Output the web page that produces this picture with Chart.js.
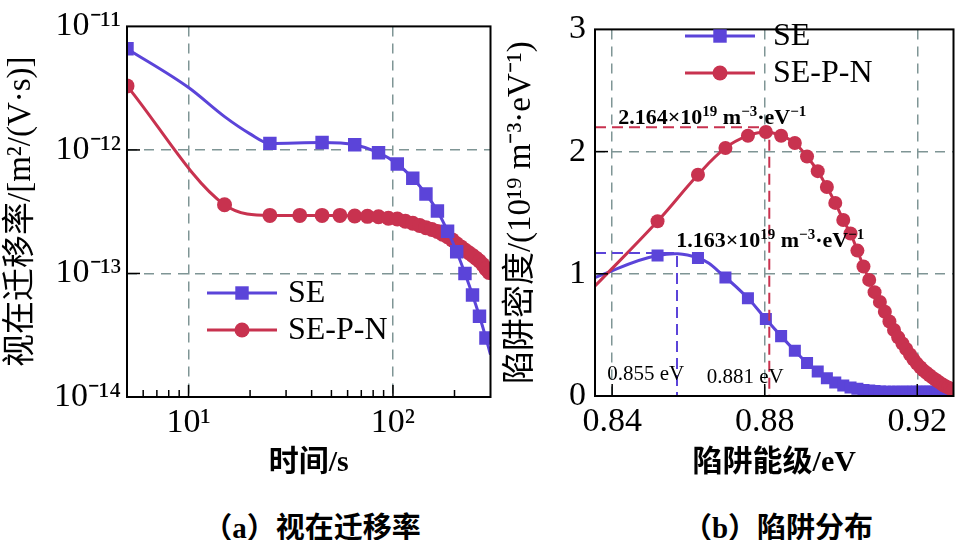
<!DOCTYPE html>
<html>
<head>
<meta charset="utf-8">
<script src="https://cdn.jsdelivr.net/npm/chart.js@4.4.1/dist/chart.umd.min.js"></script>
<style>
  html, body { margin: 0; padding: 0; background: #fff; width: 962px; height: 540px; overflow: hidden; }
  canvas { position: absolute; top: 0; }
  #chartA { left: 0; }
  #chartB { left: 500px; }
  .cap { position: absolute; top: 504px; width: 400px; text-align: center; line-height: 36px;
         font: bold 29px 'Liberation Serif', 'Noto Sans CJK SC', serif; color: #000; }
</style>
</head>
<body>
<canvas id="chartA" width="500" height="490"></canvas>
<canvas id="chartB" width="462" height="490"></canvas>
<div class="cap" style="left:112px">（a）视在迁移率</div>
<div class="cap" style="left:578px">（b）陷阱分布</div>
<script>
const SERIF = "'Liberation Serif', 'Noto Sans CJK SC', serif"
const BLUE = '#5b44d9'
const RED = '#c8324f'
const GRID = '#7f9595'

// (a) 视在迁移率 — time in s, mobility in m2/(V·s)
const seTime = [5, 25, 45, 65, 85, 105, 125, 145, 165, 185, 205, 225, 245, 265, 285]
const seMobility = [6.6e-12, 1.13e-12, 1.15e-12, 1.10e-12, 9.5e-13, 7.7e-13, 5.9e-13, 4.4e-13,
  3.2e-13, 2.2e-13, 1.5e-13, 1.0e-13, 6.7e-14, 4.5e-14, 3.0e-14]
// points on the SE curve that carry no marker
const seBendTime = [10, 15, 20, 300]
const seBendMobility = [3.2e-12, 1.86e-12, 1.35e-12, 2.2e-14]

const sepnTime = [5, 15, 25, 35, 45, 55, 65, 75, 85, 95, 105, 115, 125, 135, 145,
  155, 165, 175, 185, 195, 205, 215, 225, 235, 245, 255, 265, 275, 285, 295]
const sepnMobility = [3.3e-12, 3.6e-13, 2.95e-13, 2.95e-13, 2.95e-13, 2.95e-13, 2.92e-13, 2.9e-13,
  2.88e-13, 2.8e-13, 2.76e-13, 2.65e-13, 2.55e-13, 2.45e-13, 2.35e-13, 2.27e-13, 2.19e-13,
  2.08e-13, 1.98e-13, 1.87e-13, 1.74e-13, 1.64e-13, 1.55e-13, 1.47e-13, 1.4e-13, 1.33e-13,
  1.26e-13, 1.18e-13, 1.09e-13, 1.02e-13]
const sepnBendTime = [300]
const sepnBendMobility = [0.98e-13]

const timeTicks = [10, 100]
const timeLabels = ['10¹', '10²']
const timeMinor = [6, 7, 8, 9, 20, 30, 40, 50, 60, 70, 80, 90, 200]
const mobilityTicks = [1e-14, 1e-13, 1e-12, 1e-11]
const mobilityLabels = ['10⁻¹⁴', '10⁻¹³', '10⁻¹²', '10⁻¹¹']

// (b) 陷阱分布 — trap level in eV, density in 1e19 m-3·eV-1
const trapLevel = [0.8519, 0.8625, 0.8697, 0.8756, 0.8803, 0.8843, 0.8879, 0.8911, 0.8939, 0.8963,
  0.8985, 0.9006, 0.9025, 0.9043, 0.9059, 0.9074, 0.9088, 0.9102, 0.9115, 0.9127,
  0.9139, 0.9150, 0.9161, 0.9171, 0.9181, 0.9190, 0.9199, 0.9208, 0.9216, 0.9224,
  0.9232, 0.9240, 0.9247, 0.9254, 0.9261, 0.9268, 0.9274, 0.9281, 0.9287, 0.9293]
const seDensity = [1.15, 1.13, 0.97, 0.80, 0.63, 0.49, 0.37, 0.27, 0.20, 0.145,
  0.11, 0.085, 0.07, 0.06, 0.05, 0.045, 0.04, 0.037, 0.035, 0.035,
  0.035, 0.035, 0.035, 0.035, 0.035, 0.035, 0.035, 0.035, 0.035, 0.035,
  0.035, 0.035, 0.035, 0.035, 0.035, 0.035, 0.035, 0.035, 0.035, 0.035]
const sepnDensity = [1.43, 1.81, 2.03, 2.13, 2.16, 2.13, 2.07, 1.96, 1.84, 1.71,
  1.58, 1.44, 1.33, 1.19, 1.06, 0.95, 0.85, 0.77, 0.69, 0.61,
  0.54, 0.48, 0.43, 0.385, 0.34, 0.30, 0.265, 0.235, 0.21, 0.19,
  0.17, 0.15, 0.135, 0.12, 0.105, 0.09, 0.08, 0.07, 0.06, 0.05]
// curve start at the left edge, no marker
const edgeLevel = [0.8355]
const seEdgeDensity = [0.97]
const sepnEdgeDensity = [0.90]

const sePeak = { level: 0.857, density: 1.17 }
const sepnPeak = { level: 0.8812, density: 2.2 }

const levelTicks = [0.84, 0.88, 0.92]
const densityTicks = [0, 1, 2, 3]

function pts(xs, ys) {
  return xs.map((x, i) => ({ x, y: ys[i] }))
}

function curve(xs, ys, xs2, ys2) {
  return pts(xs, ys).concat(pts(xs2, ys2)).sort((p, q) => p.x - q.x)
}

function drawMarker(ctx, style, x, y, r) {
  ctx.beginPath()
  if (style === 'rect') {
    const s = r * Math.SQRT1_2
    ctx.rect(x - s, y - s, 2 * s, 2 * s)
  } else {
    ctx.arc(x, y, r, 0, Math.PI * 2)
  }
  ctx.fill()
}

// text runs with raised superscripts
function drawRich(ctx, segs, x, y, size, weight) {
  let cx = x
  ctx.textBaseline = 'alphabetic'
  ctx.textAlign = 'left'
  segs.forEach(([t, sup]) => {
    const fs = sup ? Math.round(size * 0.66) : size
    ctx.font = `${weight} ${fs}px ${SERIF}`
    ctx.fillText(t, cx, sup ? y - size * 0.38 : y)
    cx += ctx.measureText(t).width
  })
}

const framePlugin = {
  id: 'frame',
  afterDraw(chart, args, opts) {
    const { ctx, chartArea: a, scales } = chart
    ctx.save()
    ctx.strokeStyle = '#000'
    ctx.lineWidth = 1.5
    const xs = scales.x, ys = scales.y
    ;(opts.xMajor || []).forEach(v => {
      const px = xs.getPixelForValue(v)
      ctx.beginPath(); ctx.moveTo(px, a.bottom); ctx.lineTo(px, a.bottom - 12); ctx.stroke()
    })
    ;(opts.xMinor || []).forEach(v => {
      const px = xs.getPixelForValue(v)
      ctx.beginPath(); ctx.moveTo(px, a.bottom); ctx.lineTo(px, a.bottom - 7); ctx.stroke()
    })
    ;(opts.yMajor || []).forEach(v => {
      const py = ys.getPixelForValue(v)
      ctx.beginPath(); ctx.moveTo(a.left, py); ctx.lineTo(a.left + 13, py); ctx.stroke()
    })
    ctx.lineWidth = 2
    ctx.strokeRect(a.left, a.top, a.right - a.left, a.bottom - a.top)
    ctx.restore()
  }
}

const legendPlugin = {
  id: 'lineLegend',
  afterDraw(chart, args, opts) {
    const ctx = chart.ctx
    ctx.save()
    opts.items.forEach((it, i) => {
      const y = opts.y + i * opts.gap
      ctx.strokeStyle = it.color
      ctx.fillStyle = it.color
      ctx.lineWidth = 3
      ctx.beginPath(); ctx.moveTo(opts.x, y); ctx.lineTo(opts.x + 70, y); ctx.stroke()
      drawMarker(ctx, it.style, opts.x + 35, y, it.radius)
      ctx.fillStyle = '#000'
      ctx.font = `32px ${SERIF}`
      ctx.textBaseline = 'middle'
      ctx.textAlign = 'left'
      ctx.fillText(it.label, opts.x + opts.textGap, y + 1)
    })
    ctx.restore()
  }
}

const notesPlugin = {
  id: 'notes',
  afterDraw(chart, args, opts) {
    if (!opts.items) return
    const { ctx, scales } = chart
    ctx.save()
    ctx.fillStyle = '#000'
    opts.items.forEach(n => {
      drawRich(ctx, n.segs, scales.x.getPixelForValue(n.x), scales.y.getPixelForValue(n.y), n.size, n.weight)
    })
    ctx.restore()
  }
}

Chart.register(framePlugin, legendPlugin, notesPlugin)

const tickFont = { family: SERIF, size: 34 }
const titleFont = { family: SERIF, size: 30, weight: 'bold' }
const yTitleFont = { family: SERIF, size: 33 }
const gridEdgeless = n => ctx => (ctx.index === 0 || ctx.index === n - 1) ? 'rgba(0,0,0,0)' : GRID

new Chart(document.getElementById('chartA'), {
  type: 'line',
  data: {
    datasets: [
      { data: curve(seTime, seMobility, seBendTime, seBendMobility), borderColor: BLUE, borderWidth: 3,
        pointRadius: 0, cubicInterpolationMode: 'monotone', order: 1 },
      { data: pts(seTime, seMobility), showLine: false, pointStyle: 'rect', pointRadius: 9.5,
        backgroundColor: BLUE, pointBorderWidth: 0, order: 0 },
      { data: curve(sepnTime, sepnMobility, sepnBendTime, sepnBendMobility), borderColor: RED, borderWidth: 3,
        pointRadius: 0, cubicInterpolationMode: 'monotone', order: 3 },
      { data: pts(sepnTime, sepnMobility), showLine: false, pointStyle: 'circle', pointRadius: 7.5,
        backgroundColor: RED, pointBorderWidth: 0, order: 2 },
    ],
  },
  options: {
    responsive: false,
    animation: false,
    layout: { padding: { top: 17, right: 9, left: 0, bottom: 0 } },
    plugins: {
      legend: { display: false },
      tooltip: { enabled: false },
      frame: { xMajor: timeTicks, xMinor: timeMinor, yMajor: [1e-13, 1e-12] },
      lineLegend: {
        x: 207, y: 293, gap: 37, textGap: 81,
        items: [
          { label: 'SE', color: BLUE, style: 'rect', radius: 9.5 },
          { label: 'SE-P-N', color: RED, style: 'circle', radius: 7.5 },
        ],
      },
    },
    scales: {
      x: {
        type: 'logarithmic', min: 5, max: 300,
        afterBuildTicks: s => { s.ticks = timeTicks.map(v => ({ value: v })) },
        afterFit: s => { s.height = 93 },
        ticks: { callback: (v, i) => timeLabels[i], font: tickFont, color: '#000', padding: 6,
                 maxRotation: 0, autoSkip: false },
        grid: { color: GRID, lineWidth: 1.5, drawTicks: false },
        border: { display: false, dash: [10, 7] },
        title: { display: true, text: '时间/s', font: titleFont, color: '#000', padding: { top: 0, bottom: 9 } },
      },
      y: {
        type: 'logarithmic', min: 1e-14, max: 1e-11,
        afterBuildTicks: s => { s.ticks = mobilityTicks.map(v => ({ value: v })) },
        afterFit: s => { s.width = 127 },
        ticks: { callback: (v, i) => mobilityLabels[i], font: tickFont, color: '#000', padding: 6, autoSkip: false },
        grid: { color: gridEdgeless(mobilityTicks.length), lineWidth: 1.5, drawTicks: false },
        border: { display: false, dash: [10, 7] },
        title: { display: true, text: '视在迁移率/[m²/(V·s)]', font: yTitleFont, color: '#000', padding: { top: 2 } },
      },
    },
  },
})

const sup = t => [t, true]
const txt = t => [t, false]

new Chart(document.getElementById('chartB'), {
  type: 'line',
  data: {
    datasets: [
      { data: [{ x: edgeLevel[0], y: sepnPeak.density }, { x: sepnPeak.level, y: sepnPeak.density }, { x: sepnPeak.level, y: 0 }],
        borderColor: RED, borderWidth: 2, borderDash: [11, 6], pointRadius: 0, tension: 0, order: 0 },
      { data: [{ x: edgeLevel[0], y: sePeak.density }, { x: sePeak.level, y: sePeak.density }, { x: sePeak.level, y: 0 }],
        borderColor: BLUE, borderWidth: 2, borderDash: [11, 6], pointRadius: 0, tension: 0, order: 1 },
      { data: pts(trapLevel, sepnDensity), showLine: false, pointStyle: 'circle', pointRadius: 7,
        backgroundColor: RED, pointBorderWidth: 0, order: 2 },
      { data: curve(trapLevel, sepnDensity, edgeLevel, sepnEdgeDensity), borderColor: RED, borderWidth: 3,
        pointRadius: 0, tension: 0.4, order: 3 },
      { data: pts(trapLevel, seDensity), showLine: false, pointStyle: 'rect', pointRadius: 8.5,
        backgroundColor: BLUE, pointBorderWidth: 0, order: 4 },
      { data: curve(trapLevel, seDensity, edgeLevel, seEdgeDensity), borderColor: BLUE, borderWidth: 3,
        pointRadius: 0, tension: 0.4, order: 5 },
    ],
  },
  options: {
    responsive: false,
    animation: false,
    layout: { padding: { top: 17, right: 4, left: 0, bottom: 0 } },
    plugins: {
      legend: { display: false },
      tooltip: { enabled: false },
      frame: { xMajor: levelTicks, yMajor: [1, 2] },
      lineLegend: {
        x: 185, y: 36, gap: 37, textGap: 88,
        items: [
          { label: 'SE', color: BLUE, style: 'rect', radius: 9.5 },
          { label: 'SE-P-N', color: RED, style: 'circle', radius: 7.5 },
        ],
      },
      notes: {
        items: [
          { x: 0.8416, y: 2.224, size: 22, weight: 'bold',
            segs: [txt('2.164×10'), sup('19'), txt(' m'), sup('−3'), txt('·eV'), sup('−1')] },
          { x: 0.8568, y: 1.219, size: 22, weight: 'bold',
            segs: [txt('1.163×10'), sup('19'), txt(' m'), sup('−3'), txt('·eV'), sup('−1')] },
          { x: 0.8387, y: 0.135, size: 21, weight: 'normal', segs: [txt('0.855 eV')] },
          { x: 0.8648, y: 0.103, size: 21, weight: 'normal', segs: [txt('0.881 eV')] },
        ],
      },
    },
    scales: {
      x: {
        type: 'linear', min: 0.8355, max: 0.9295,
        afterBuildTicks: s => { s.ticks = levelTicks.map(v => ({ value: v })) },
        afterFit: s => { s.height = 94 },
        ticks: { callback: v => v.toFixed(2), font: tickFont, color: '#000', padding: 6,
                 maxRotation: 0, autoSkip: false },
        grid: { color: GRID, lineWidth: 1.5, drawTicks: false },
        border: { display: false, dash: [10, 7] },
        title: { display: true, text: '陷阱能级/eV', font: titleFont, color: '#000', padding: { top: 0, bottom: 9 } },
      },
      y: {
        type: 'linear', min: 0, max: 3,
        afterBuildTicks: s => { s.ticks = densityTicks.map(v => ({ value: v })) },
        afterFit: s => { s.width = 95 },
        ticks: { callback: v => String(v), font: tickFont, color: '#000', padding: 9, autoSkip: false },
        grid: { color: gridEdgeless(densityTicks.length), lineWidth: 1.5, drawTicks: false },
        border: { display: false, dash: [10, 7] },
        title: { display: true, text: '陷阱密度/(10¹⁹ m⁻³·eV⁻¹)', font: yTitleFont, color: '#000', padding: { top: 2 } },
      },
    },
  },
})
</script>
</body>
</html>
